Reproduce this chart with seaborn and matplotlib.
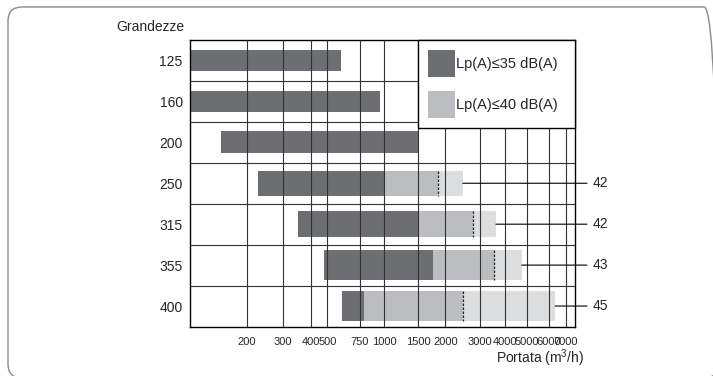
import numpy as np
import pandas as pd
import matplotlib
matplotlib.use("Agg")
import matplotlib.pyplot as plt
import seaborn as sns
from matplotlib import font_manager
from matplotlib.patches import Patch, FancyBboxPatch
from matplotlib.transforms import IdentityTransform

# Grandezze (sizes) and flow ranges, m3/h
SIZES = ["125", "160", "200", "250", "315", "355", "400"]
FLOW_MIN = [0, 0, 150, 225, 350, 480, 600]            # 0 = starts at the axis
FLOW_35DB = [590, 950, 1500, 1000, 1500, 1750, 790]    # Lp(A) <= 35 dB(A)
FLOW_40DB = [0, 0, 0, 1850, 2750, 3500, 2450]          # Lp(A) <= 40 dB(A), dashed end
FLOW_MAX = [0, 0, 0, 2450, 3600, 4750, 6350]
NOISE_MAX = ["", "", "", "42", "42", "43", "45"]

TICK_VALUES = [200, 300, 400, 500, 750, 1000, 1500, 2000, 3000, 4000, 5000, 6000, 7000]
LEGEND_LABELS = ["Lp(A)\u226435 dB(A)", "Lp(A)\u226440 dB(A)"]

# the printed axis is only roughly logarithmic: where each tick sits (fraction of width)
STOP_VALUES = [10] + TICK_VALUES + [100000]
STOP_POS = [-0.549, 0.1474, 0.2417, 0.3145, 0.3561, 0.4403, 0.5043, 0.5927,
            0.6629, 0.7538, 0.8180, 0.8745, 0.9324, 0.9758, 1.725]
BAR_H = [0.5, 0.5, 0.53, 0.62, 0.65, 0.75, 0.75]

DARK = "#6d6e71"
MID = "#bcbdc0"
LIGHT = "#dcdddf"
GRID = "#333333"

log_stops = np.log10(STOP_VALUES)


def fwd(x):
    x = np.clip(np.asarray(x, dtype=float), 1e-6, None)
    return np.interp(np.log10(x), log_stops, STOP_POS)


def inv(p):
    return 10 ** np.interp(np.asarray(p, dtype=float), STOP_POS, log_stops)


sns.set_style("white")
plt.rcParams["font.family"] = ["Liberation Sans", "DejaVu Sans"]
plt.rcParams["mathtext.fontset"] = "custom"
plt.rcParams["mathtext.rm"] = "Liberation Sans"
plt.rcParams["mathtext.it"] = "Liberation Sans:italic"
plt.rcParams["mathtext.bf"] = "Liberation Sans:bold"

installed = {f.name for f in font_manager.fontManager.ttflist}
if "Liberation Sans Narrow" in installed:
    tick_font = {"fontfamily": "Liberation Sans Narrow", "fontsize": 10}
else:
    tick_font = {"fontfamily": "Liberation Sans", "fontsize": 8}

df = pd.DataFrame({
    "grandezza": SIZES,
    "start": FLOW_MIN,
    "db35": FLOW_35DB,
    "db40": FLOW_40DB,
    "max": FLOW_MAX,
})

fig = plt.figure(figsize=(7.13, 3.76), dpi=100)
ax = fig.add_axes([190.3 / 713, (376 - 326.5) / 376, 384.7 / 713, 286.5 / 376])

# layered bars, the white one blanks out the part below the minimum flow
for col, c in [("max", LIGHT), ("db40", MID), ("db35", DARK), ("start", "white")]:
    sns.barplot(data=df, x=col, y="grandezza", order=SIZES, orient="h", color=c,
                saturation=1, width=0.6, errorbar=None, linewidth=0,
                edgecolor="none", ax=ax)

for cont in ax.containers:
    for i, bar in enumerate(cont):
        bar.set_height(BAR_H[i])
        bar.set_y(i - BAR_H[i] / 2)

ax.set_xscale("function", functions=(fwd, inv))
ax.set_xlim(inv(0), inv(1))
ax.set_ylim(len(SIZES) - 0.5, -0.5)
ax.set_xticks(TICK_VALUES, labels=[str(v) for v in TICK_VALUES], **tick_font)
ax.set_yticks(np.arange(0.5, len(SIZES) - 1), minor=True)
ax.set_axisbelow(False)
ax.grid(True, axis="x", which="major", color=GRID, lw=0.8)
ax.grid(True, axis="y", which="minor", color=GRID, lw=0.8)
ax.grid(False, axis="y", which="major")
ax.tick_params(which="both", length=0)
ax.tick_params(axis="x", pad=7.5)
ax.tick_params(axis="y", pad=5.5, labelsize=10)
ax.set_xlabel("")
ax.set_ylabel("")
for s in ax.spines.values():
    s.set_visible(True)
    s.set_color("black")
    s.set_linewidth(1.0)

# dashed marks at the end of the 40 dB(A) range
for i, v in enumerate(FLOW_40DB):
    if v > 0:
        ax.vlines(v, i - BAR_H[i] / 2, i + BAR_H[i] / 2, colors="#222222",
                  linestyles=(0, (2, 1.2)), lw=0.9, zorder=3)

# noise level call-outs on the right
ytrans = ax.get_yaxis_transform()
for i, label in enumerate(NOISE_MAX):
    if not label:
        continue
    ax.annotate("", xy=(FLOW_MAX[i], i), xycoords="data", xytext=(1.031, i),
                textcoords=ytrans, annotation_clip=False,
                arrowprops=dict(arrowstyle="-", color="black", lw=0.8,
                                shrinkA=0, shrinkB=0))
    ax.text(1.046, i, label, transform=ytrans, ha="left", va="center",
            fontsize=10, clip_on=False)

x0 = float(fwd(1500))
handles = [Patch(facecolor=DARK, edgecolor="none"), Patch(facecolor=MID, edgecolor="none")]
leg = ax.legend(handles, LEGEND_LABELS, loc="upper left",
                bbox_to_anchor=(x0, 0, 1 - x0, 1), mode="expand", borderaxespad=0,
                fancybox=False, framealpha=1, edgecolor="black", fontsize=10.5,
                handlelength=1.85, handleheight=2.47, handletextpad=0.08,
                borderpad=0.68, labelspacing=1.0)
leg.get_frame().set_linewidth(1.0)

fig.text(184 / 713, 1 - 26.7 / 376, "Grandezze", ha="right", va="center", fontsize=10)
fig.text(584 / 713, 1 - 358 / 376, "Portata (m$^3$/h)", ha="right", va="center", fontsize=10)

frame = FancyBboxPatch((8, -2), 710, 371, boxstyle="round,pad=0,rounding_size=14",
                       transform=IdentityTransform(), facecolor="none",
                       edgecolor="#8c8c8c", lw=1.0)
fig.add_artist(frame)

fig.savefig("out.png", dpi=100)
